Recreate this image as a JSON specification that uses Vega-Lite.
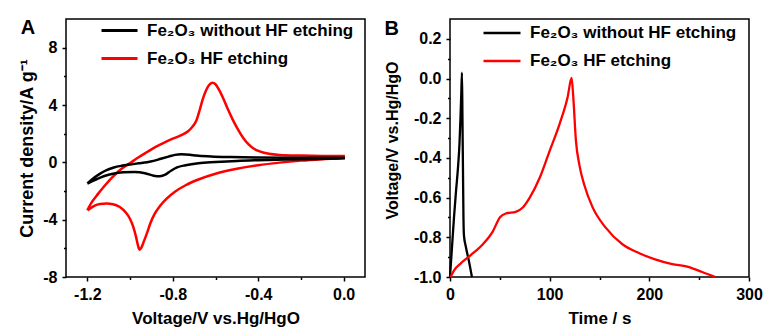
{
  "$schema": "https://vega.github.io/schema/vega-lite/v6.json",
  "background": "white",
  "padding": {"left": 18, "top": 10, "right": 5, "bottom": 0},
  "spacing": 17,
  "datasets": {
    "cv": [
      {"s": "Fe₂O₃ HF etching", "i": 1, "v": -1.2, "j": -3.35},
      {"s": "Fe₂O₃ HF etching", "i": 2, "v": -1.18, "j": -2.8},
      {"s": "Fe₂O₃ HF etching", "i": 3, "v": -1.15, "j": -2.2},
      {"s": "Fe₂O₃ HF etching", "i": 4, "v": -1.12, "j": -1.65},
      {"s": "Fe₂O₃ HF etching", "i": 5, "v": -1.08, "j": -1.0},
      {"s": "Fe₂O₃ HF etching", "i": 6, "v": -1.04, "j": -0.45},
      {"s": "Fe₂O₃ HF etching", "i": 7, "v": -1.0, "j": -0.05},
      {"s": "Fe₂O₃ HF etching", "i": 8, "v": -0.96, "j": 0.35},
      {"s": "Fe₂O₃ HF etching", "i": 9, "v": -0.92, "j": 0.72},
      {"s": "Fe₂O₃ HF etching", "i": 10, "v": -0.88, "j": 1.08},
      {"s": "Fe₂O₃ HF etching", "i": 11, "v": -0.84, "j": 1.38},
      {"s": "Fe₂O₃ HF etching", "i": 12, "v": -0.8, "j": 1.65},
      {"s": "Fe₂O₃ HF etching", "i": 13, "v": -0.76, "j": 1.9},
      {"s": "Fe₂O₃ HF etching", "i": 14, "v": -0.73, "j": 2.15},
      {"s": "Fe₂O₃ HF etching", "i": 15, "v": -0.71, "j": 2.45},
      {"s": "Fe₂O₃ HF etching", "i": 16, "v": -0.69, "j": 2.9},
      {"s": "Fe₂O₃ HF etching", "i": 17, "v": -0.675, "j": 3.6},
      {"s": "Fe₂O₃ HF etching", "i": 18, "v": -0.66, "j": 4.4},
      {"s": "Fe₂O₃ HF etching", "i": 19, "v": -0.645, "j": 5.0},
      {"s": "Fe₂O₃ HF etching", "i": 20, "v": -0.63, "j": 5.4},
      {"s": "Fe₂O₃ HF etching", "i": 21, "v": -0.615, "j": 5.55},
      {"s": "Fe₂O₃ HF etching", "i": 22, "v": -0.6, "j": 5.45},
      {"s": "Fe₂O₃ HF etching", "i": 23, "v": -0.585, "j": 5.1},
      {"s": "Fe₂O₃ HF etching", "i": 24, "v": -0.565, "j": 4.5},
      {"s": "Fe₂O₃ HF etching", "i": 25, "v": -0.545, "j": 3.8},
      {"s": "Fe₂O₃ HF etching", "i": 26, "v": -0.52, "j": 3.0},
      {"s": "Fe₂O₃ HF etching", "i": 27, "v": -0.495, "j": 2.3},
      {"s": "Fe₂O₃ HF etching", "i": 28, "v": -0.47, "j": 1.7},
      {"s": "Fe₂O₃ HF etching", "i": 29, "v": -0.445, "j": 1.25},
      {"s": "Fe₂O₃ HF etching", "i": 30, "v": -0.42, "j": 0.95},
      {"s": "Fe₂O₃ HF etching", "i": 31, "v": -0.39, "j": 0.75},
      {"s": "Fe₂O₃ HF etching", "i": 32, "v": -0.35, "j": 0.6},
      {"s": "Fe₂O₃ HF etching", "i": 33, "v": -0.3, "j": 0.52},
      {"s": "Fe₂O₃ HF etching", "i": 34, "v": -0.2, "j": 0.47},
      {"s": "Fe₂O₃ HF etching", "i": 35, "v": -0.1, "j": 0.45},
      {"s": "Fe₂O₃ HF etching", "i": 36, "v": 0.0, "j": 0.45},
      {"s": "Fe₂O₃ HF etching", "i": 37, "v": 0.0, "j": 0.3},
      {"s": "Fe₂O₃ HF etching", "i": 38, "v": -0.1, "j": 0.22},
      {"s": "Fe₂O₃ HF etching", "i": 39, "v": -0.2, "j": 0.12},
      {"s": "Fe₂O₃ HF etching", "i": 40, "v": -0.3, "j": -0.02},
      {"s": "Fe₂O₃ HF etching", "i": 41, "v": -0.4, "j": -0.2},
      {"s": "Fe₂O₃ HF etching", "i": 42, "v": -0.5, "j": -0.45},
      {"s": "Fe₂O₃ HF etching", "i": 43, "v": -0.6, "j": -0.8},
      {"s": "Fe₂O₃ HF etching", "i": 44, "v": -0.68, "j": -1.2},
      {"s": "Fe₂O₃ HF etching", "i": 45, "v": -0.74, "j": -1.6},
      {"s": "Fe₂O₃ HF etching", "i": 46, "v": -0.79, "j": -2.05},
      {"s": "Fe₂O₃ HF etching", "i": 47, "v": -0.83, "j": -2.55},
      {"s": "Fe₂O₃ HF etching", "i": 48, "v": -0.86, "j": -3.05},
      {"s": "Fe₂O₃ HF etching", "i": 49, "v": -0.885, "j": -3.6},
      {"s": "Fe₂O₃ HF etching", "i": 50, "v": -0.905, "j": -4.25},
      {"s": "Fe₂O₃ HF etching", "i": 51, "v": -0.92, "j": -4.9},
      {"s": "Fe₂O₃ HF etching", "i": 52, "v": -0.935, "j": -5.5},
      {"s": "Fe₂O₃ HF etching", "i": 53, "v": -0.947, "j": -5.95},
      {"s": "Fe₂O₃ HF etching", "i": 54, "v": -0.955, "j": -6.1},
      {"s": "Fe₂O₃ HF etching", "i": 55, "v": -0.963, "j": -5.8},
      {"s": "Fe₂O₃ HF etching", "i": 56, "v": -0.972, "j": -5.2},
      {"s": "Fe₂O₃ HF etching", "i": 57, "v": -0.985, "j": -4.5},
      {"s": "Fe₂O₃ HF etching", "i": 58, "v": -1.0, "j": -3.95},
      {"s": "Fe₂O₃ HF etching", "i": 59, "v": -1.02, "j": -3.5},
      {"s": "Fe₂O₃ HF etching", "i": 60, "v": -1.05, "j": -3.1},
      {"s": "Fe₂O₃ HF etching", "i": 61, "v": -1.08, "j": -2.92},
      {"s": "Fe₂O₃ HF etching", "i": 62, "v": -1.11, "j": -2.88},
      {"s": "Fe₂O₃ HF etching", "i": 63, "v": -1.14, "j": -2.9},
      {"s": "Fe₂O₃ HF etching", "i": 64, "v": -1.17, "j": -3.05},
      {"s": "Fe₂O₃ HF etching", "i": 65, "v": -1.19, "j": -3.25},
      {"s": "Fe₂O₃ HF etching", "i": 66, "v": -1.2, "j": -3.35},
      {"s": "Fe₂O₃ without HF etching", "i": 1, "v": -1.2, "j": -1.48},
      {"s": "Fe₂O₃ without HF etching", "i": 2, "v": -1.17, "j": -1.1},
      {"s": "Fe₂O₃ without HF etching", "i": 3, "v": -1.14, "j": -0.79},
      {"s": "Fe₂O₃ without HF etching", "i": 4, "v": -1.11, "j": -0.55},
      {"s": "Fe₂O₃ without HF etching", "i": 5, "v": -1.076, "j": -0.36},
      {"s": "Fe₂O₃ without HF etching", "i": 6, "v": -1.04, "j": -0.24},
      {"s": "Fe₂O₃ without HF etching", "i": 7, "v": -1.0, "j": -0.15},
      {"s": "Fe₂O₃ without HF etching", "i": 8, "v": -0.96, "j": -0.07},
      {"s": "Fe₂O₃ without HF etching", "i": 9, "v": -0.92, "j": 0.01},
      {"s": "Fe₂O₃ without HF etching", "i": 10, "v": -0.89, "j": 0.1},
      {"s": "Fe₂O₃ without HF etching", "i": 11, "v": -0.856, "j": 0.25},
      {"s": "Fe₂O₃ without HF etching", "i": 12, "v": -0.82, "j": 0.4},
      {"s": "Fe₂O₃ without HF etching", "i": 13, "v": -0.79, "j": 0.52},
      {"s": "Fe₂O₃ without HF etching", "i": 14, "v": -0.76, "j": 0.56},
      {"s": "Fe₂O₃ without HF etching", "i": 15, "v": -0.72, "j": 0.53},
      {"s": "Fe₂O₃ without HF etching", "i": 16, "v": -0.69, "j": 0.47},
      {"s": "Fe₂O₃ without HF etching", "i": 17, "v": -0.62, "j": 0.41},
      {"s": "Fe₂O₃ without HF etching", "i": 18, "v": -0.53, "j": 0.37},
      {"s": "Fe₂O₃ without HF etching", "i": 19, "v": -0.4, "j": 0.34},
      {"s": "Fe₂O₃ without HF etching", "i": 20, "v": -0.2, "j": 0.32},
      {"s": "Fe₂O₃ without HF etching", "i": 21, "v": 0.0, "j": 0.32},
      {"s": "Fe₂O₃ without HF etching", "i": 22, "v": 0.0, "j": 0.28},
      {"s": "Fe₂O₃ without HF etching", "i": 23, "v": -0.2, "j": 0.22},
      {"s": "Fe₂O₃ without HF etching", "i": 24, "v": -0.4, "j": 0.15},
      {"s": "Fe₂O₃ without HF etching", "i": 25, "v": -0.5, "j": 0.1},
      {"s": "Fe₂O₃ without HF etching", "i": 26, "v": -0.6, "j": 0.02},
      {"s": "Fe₂O₃ without HF etching", "i": 27, "v": -0.68, "j": -0.06},
      {"s": "Fe₂O₃ without HF etching", "i": 28, "v": -0.74, "j": -0.2},
      {"s": "Fe₂O₃ without HF etching", "i": 29, "v": -0.78, "j": -0.35},
      {"s": "Fe₂O₃ without HF etching", "i": 30, "v": -0.81, "j": -0.6},
      {"s": "Fe₂O₃ without HF etching", "i": 31, "v": -0.835, "j": -0.86},
      {"s": "Fe₂O₃ without HF etching", "i": 32, "v": -0.86, "j": -0.97},
      {"s": "Fe₂O₃ without HF etching", "i": 33, "v": -0.89, "j": -0.93},
      {"s": "Fe₂O₃ without HF etching", "i": 34, "v": -0.93, "j": -0.76},
      {"s": "Fe₂O₃ without HF etching", "i": 35, "v": -0.98, "j": -0.68},
      {"s": "Fe₂O₃ without HF etching", "i": 36, "v": -1.03, "j": -0.7},
      {"s": "Fe₂O₃ without HF etching", "i": 37, "v": -1.08, "j": -0.79},
      {"s": "Fe₂O₃ without HF etching", "i": 38, "v": -1.12, "j": -0.95},
      {"s": "Fe₂O₃ without HF etching", "i": 39, "v": -1.16, "j": -1.2},
      {"s": "Fe₂O₃ without HF etching", "i": 40, "v": -1.2, "j": -1.48}
    ],
    "gcd": [
      {"s": "Fe₂O₃ without HF etching", "i": 1, "t": 0, "u": -1.0},
      {"s": "Fe₂O₃ without HF etching", "i": 2, "t": 2, "u": -0.85},
      {"s": "Fe₂O₃ without HF etching", "i": 3, "t": 4, "u": -0.7},
      {"s": "Fe₂O₃ without HF etching", "i": 4, "t": 6, "u": -0.57},
      {"s": "Fe₂O₃ without HF etching", "i": 5, "t": 8, "u": -0.45},
      {"s": "Fe₂O₃ without HF etching", "i": 6, "t": 9.5, "u": -0.33},
      {"s": "Fe₂O₃ without HF etching", "i": 7, "t": 10.5, "u": -0.2},
      {"s": "Fe₂O₃ without HF etching", "i": 8, "t": 11.3, "u": -0.08},
      {"s": "Fe₂O₃ without HF etching", "i": 9, "t": 12, "u": 0.03},
      {"s": "Fe₂O₃ without HF etching", "i": 10, "t": 12.5, "u": -0.2},
      {"s": "Fe₂O₃ without HF etching", "i": 11, "t": 13, "u": -0.45},
      {"s": "Fe₂O₃ without HF etching", "i": 12, "t": 13.5, "u": -0.7},
      {"s": "Fe₂O₃ without HF etching", "i": 13, "t": 14, "u": -0.79},
      {"s": "Fe₂O₃ without HF etching", "i": 14, "t": 16, "u": -0.85},
      {"s": "Fe₂O₃ without HF etching", "i": 15, "t": 19, "u": -0.92},
      {"s": "Fe₂O₃ without HF etching", "i": 16, "t": 22, "u": -1.0},
      {"s": "Fe₂O₃ HF etching", "i": 1, "t": 0.5, "u": -1.0},
      {"s": "Fe₂O₃ HF etching", "i": 2, "t": 5, "u": -0.96},
      {"s": "Fe₂O₃ HF etching", "i": 3, "t": 10, "u": -0.935},
      {"s": "Fe₂O₃ HF etching", "i": 4, "t": 20, "u": -0.893},
      {"s": "Fe₂O₃ HF etching", "i": 5, "t": 33, "u": -0.835},
      {"s": "Fe₂O₃ HF etching", "i": 6, "t": 43, "u": -0.77},
      {"s": "Fe₂O₃ HF etching", "i": 7, "t": 50, "u": -0.7},
      {"s": "Fe₂O₃ HF etching", "i": 8, "t": 56, "u": -0.68},
      {"s": "Fe₂O₃ HF etching", "i": 9, "t": 66, "u": -0.672},
      {"s": "Fe₂O₃ HF etching", "i": 10, "t": 73, "u": -0.65},
      {"s": "Fe₂O₃ HF etching", "i": 11, "t": 80, "u": -0.6},
      {"s": "Fe₂O₃ HF etching", "i": 12, "t": 90, "u": -0.5},
      {"s": "Fe₂O₃ HF etching", "i": 13, "t": 100, "u": -0.364},
      {"s": "Fe₂O₃ HF etching", "i": 14, "t": 110, "u": -0.228},
      {"s": "Fe₂O₃ HF etching", "i": 15, "t": 118, "u": -0.094},
      {"s": "Fe₂O₃ HF etching", "i": 16, "t": 122, "u": 0.003},
      {"s": "Fe₂O₃ HF etching", "i": 17, "t": 123.7, "u": -0.094},
      {"s": "Fe₂O₃ HF etching", "i": 18, "t": 126.3, "u": -0.31},
      {"s": "Fe₂O₃ HF etching", "i": 19, "t": 130, "u": -0.44},
      {"s": "Fe₂O₃ HF etching", "i": 20, "t": 135, "u": -0.54},
      {"s": "Fe₂O₃ HF etching", "i": 21, "t": 143, "u": -0.648},
      {"s": "Fe₂O₃ HF etching", "i": 22, "t": 156, "u": -0.75},
      {"s": "Fe₂O₃ HF etching", "i": 23, "t": 173, "u": -0.835},
      {"s": "Fe₂O₃ HF etching", "i": 24, "t": 190, "u": -0.88},
      {"s": "Fe₂O₃ HF etching", "i": 25, "t": 205, "u": -0.91},
      {"s": "Fe₂O₃ HF etching", "i": 26, "t": 223, "u": -0.935},
      {"s": "Fe₂O₃ HF etching", "i": 27, "t": 238, "u": -0.948},
      {"s": "Fe₂O₃ HF etching", "i": 28, "t": 253, "u": -0.975},
      {"s": "Fe₂O₃ HF etching", "i": 29, "t": 266, "u": -1.0}
    ]
  },
  "config": {
    "font": "Liberation Sans",
    "locale": {"number": {"decimal": ".", "thousands": ",", "grouping": [3], "currency": ["$", ""], "minus": "-"}},
    "view": {"stroke": "#000000", "strokeWidth": 1.5},
    "axis": {
      "grid": false,
      "domain": false,
      "labelFlush": false,
      "labelFont": "Liberation Sans",
      "labelFontWeight": "bold",
      "labelFontSize": 16,
      "labelColor": "#000000",
      "tickColor": "#000000",
      "tickWidth": 1.5,
      "titleFont": "Liberation Sans",
      "titleFontWeight": "bold",
      "titleFontSize": 17,
      "titleColor": "#000000"
    },
    "legend": {
      "labelFont": "Liberation Sans",
      "labelFontWeight": "bold",
      "labelFontSize": 17,
      "labelColor": "#000000",
      "labelLimit": 0,
      "symbolType": "stroke",
      "padding": 0,
      "rowPadding": 0,
      "labelOffset": 8
    },
    "title": {"font": "Liberation Sans", "fontWeight": "bold", "color": "#000000"}
  },
  "resolve": {"scale": {"color": "independent"}, "legend": {"color": "independent"}},
  "hconcat": [
    {
      "width": 299,
      "height": 258,
      "title": {"text": "A", "anchor": "start", "frame": "bounds", "fontSize": 20, "offset": -27, "dx": 2},
      "data": {"name": "cv"},
      "mark": {"type": "line", "strokeWidth": 2.5, "interpolate": "monotone"},
      "encoding": {
        "x": {
          "field": "v", "type": "quantitative",
          "scale": {"domain": [-1.3, 0.1], "nice": false, "zero": false},
          "axis": {
            "title": "Voltage/V vs.Hg/HgO",
            "values": [-1.2, -1.0, -0.8, -0.6, -0.4, -0.2, 0.0],
            "format": ".1f",
            "labelExpr": "round(datum.value*10)%4==0 ? datum.label : ''",
            "tickSize": {"condition": {"test": "round(datum.value*10)%4==0", "value": 4}, "value": 2.5},
            "labelPadding": 5,
            "titlePadding": 8
          }
        },
        "y": {
          "field": "j", "type": "quantitative",
          "scale": {"domain": [-8, 10], "nice": false},
          "axis": {
            "title": "Current density/A g⁻¹",
            "values": [-8, -6, -4, -2, 0, 2, 4, 6, 8],
            "labelExpr": "datum.value%4==0 ? datum.label : ''",
            "tickSize": {"condition": {"test": "datum.value%4==0", "value": 4}, "value": 2.5},
            "labelPadding": 5,
            "titlePadding": 6,
            "titleFontSize": 18
          }
        },
        "color": {
          "field": "s", "type": "nominal",
          "scale": {"domain": ["Fe₂O₃ without HF etching", "Fe₂O₃ HF etching"], "range": ["#000000", "#ff0000"]},
          "legend": {"title": null, "orient": "none", "legendX": 34, "legendY": -8, "symbolSize": 1296, "symbolStrokeWidth": 3, "rowPadding": -3}
        },
        "order": {"field": "i", "type": "quantitative"}
      }
    },
    {
      "width": 299,
      "height": 258,
      "title": {"text": "B", "anchor": "start", "frame": "bounds", "fontSize": 20, "offset": -26, "dx": 0},
      "data": {"name": "gcd"},
      "mark": {"type": "line", "strokeWidth": 2.3, "interpolate": "monotone"},
      "encoding": {
        "x": {
          "field": "t", "type": "quantitative",
          "scale": {"domain": [0, 300], "nice": false},
          "axis": {
            "title": "Time / s",
            "values": [0, 50, 100, 150, 200, 250, 300],
            "labelExpr": "datum.value%100==0 ? datum.label : ''",
            "tickSize": {"condition": {"test": "datum.value%100==0", "value": 4}, "value": 2.5},
            "labelPadding": 5,
            "titlePadding": 8
          }
        },
        "y": {
          "field": "u", "type": "quantitative",
          "scale": {"domain": [-1.0, 0.3], "nice": false, "zero": false},
          "axis": {
            "title": "Voltage/V vs.Hg/HgO",
            "values": [-1.0, -0.9, -0.8, -0.7, -0.6, -0.5, -0.4, -0.3, -0.2, -0.1, 0.0, 0.1, 0.2],
            "format": ".1f",
            "labelExpr": "round(datum.value*10)%2==0 ? datum.label : ''",
            "tickSize": {"condition": {"test": "round(datum.value*10)%2==0", "value": 4}, "value": 2.5},
            "labelPadding": 5,
            "titlePadding": 13,
            "titleFontSize": 16,
            "titleY": 121
          }
        },
        "color": {
          "field": "s", "type": "nominal",
          "scale": {"domain": ["Fe₂O₃ without HF etching", "Fe₂O₃ HF etching"], "range": ["#000000", "#ff0000"]},
          "legend": {"title": null, "orient": "none", "legendX": 32, "legendY": -6, "symbolSize": 1369, "symbolStrokeWidth": 2.5, "rowPadding": -4}
        },
        "order": {"field": "i", "type": "quantitative"}
      }
    }
  ]
}
